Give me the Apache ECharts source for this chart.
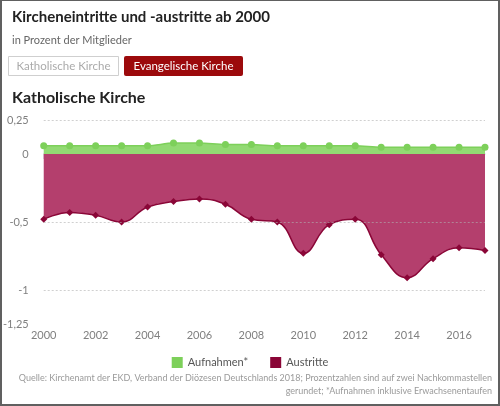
<!DOCTYPE html>
<html>
<head>
<meta charset="utf-8">
<script src="https://cdn.jsdelivr.net/npm/echarts@6/dist/echarts.min.js"></script>
<style>
html,body{margin:0;padding:0;background:#fff;}
#wrap{position:relative;width:500px;height:406px;}
#chart{position:absolute;left:0;top:0;width:500px;height:406px;}
#frame{position:absolute;left:0;top:0;width:500px;height:406px;box-sizing:border-box;border:2px solid #606060;border-top-width:1px;pointer-events:none;}
</style>
</head>
<body>
<div id="wrap"><div id="chart"></div><div id="frame"></div></div>
<script>
const years = ['2000','2001','2002','2003','2004','2005','2006','2007','2008','2009','2010','2011','2012','2013','2014','2015','2016','2017'];
const aufnahmen = [0.06,0.06,0.06,0.06,0.06,0.08,0.08,0.07,0.07,0.06,0.06,0.06,0.06,0.05,0.05,0.05,0.05,0.05];
const austritte = [-0.48,-0.43,-0.45,-0.50,-0.39,-0.35,-0.33,-0.37,-0.48,-0.50,-0.73,-0.52,-0.48,-0.74,-0.91,-0.77,-0.69,-0.71];
const yTickLabels = {'0.25':'0,25','0':'0','-0.5':'-0,5','-1':'-1','-1.25':'-1,25'};
const gridValues = [0.25,-0.5,-1];

const FONT = 'Lato, "Open Sans", sans-serif';
const chart = echarts.init(document.getElementById('chart'), null, {renderer:'canvas'});
chart.setOption({
  animation:false,
  backgroundColor:'#fff',
  title:[
    {text:'Kircheneintritte und -austritte ab 2000', left:7, top:5,
     textStyle:{fontFamily:FONT, fontSize:15, fontWeight:'bold', color:'#222'}},
    {text:'in Prozent der Mitglieder', left:7, top:30,
     textStyle:{fontFamily:FONT, fontSize:11, fontWeight:'normal', color:'#666'}},
    {text:'Katholische Kirche', left:7, top:85,
     textStyle:{fontFamily:FONT, fontSize:16, fontWeight:'bold', color:'#222'}}
  ],
  graphic:[
    {type:'rect', shape:{x:8.5,y:56.5,width:110,height:19}, style:{fill:'#fff', stroke:'#cfcfcf', lineWidth:1}},
    {type:'text', x:63.5, y:66, style:{text:'Katholische Kirche', fill:'#aaa', font:'11.5px '+FONT, align:'center', verticalAlign:'middle'}},
    {type:'rect', shape:{x:124,y:56,width:119,height:20,r:2}, style:{fill:'#9c0a0c'}},
    {type:'text', x:183.5, y:66, style:{text:'Evangelische Kirche', fill:'#fff', font:'11.5px '+FONT, align:'center', verticalAlign:'middle'}},
    {type:'text', x:492, y:378, style:{text:'Quelle: Kirchenamt der EKD, Verband der Diözesen Deutschlands 2018; Prozentzahlen sind auf zwei Nachkommastellen', fill:'#9a9a9a', font:'9px '+FONT, align:'right', verticalAlign:'middle'}},
    {type:'text', x:492, y:391, style:{text:'gerundet; *Aufnahmen inklusive Erwachsenentaufen', fill:'#9a9a9a', font:'9px '+FONT, align:'right', verticalAlign:'middle'}}
  ],
  legend:{
    top:352, left:'center', itemGap:22, icon:'rect', itemWidth:11, itemHeight:11,
    textStyle:{fontFamily:FONT, fontSize:11, color:'#555'},
    data:['Aufnahmen*','Austritte']
  },
  grid:{left:43, right:15, top:120, bottom:82},
  xAxis:{
    type:'category', data:years, boundaryGap:false,
    axisLine:{lineStyle:{color:'#dcdce4', width:1.5}},
    axisTick:{show:true, interval:1, length:5, lineStyle:{color:'#dcdce4'}},
    axisLabel:{interval:1, color:'#808080', fontFamily:FONT, fontSize:11, margin:6}
  },
  yAxis:{
    type:'value', min:-1.25, max:0.25, interval:0.25,
    axisLine:{show:false}, axisTick:{show:false}, splitLine:{show:false},
    axisLabel:{color:'#808080', fontFamily:FONT, fontSize:11, margin:15,
      formatter:function(v){const k=String(Math.round(v*100)/100);return yTickLabels[k]!==undefined?yTickLabels[k]:'';}}
  },
  series:[
    {name:'Aufnahmen*', type:'line', data:aufnahmen, smooth:0.3, symbol:'circle', symbolSize:7,
     itemStyle:{color:'#7dd05a'}, lineStyle:{color:'#7dd05a', width:1.5},
     areaStyle:{color:'#92da73', opacity:1}, z:3,
     markLine:{silent:true, symbol:'none', label:{show:false},
       lineStyle:{color:'#b0b0b0', type:[2,2], width:1, opacity:0.6},
       data:gridValues.map(v=>({yAxis:v}))}
    },
    {name:'Austritte', type:'line', data:austritte, smooth:0.45, symbol:'diamond', symbolSize:7,
     itemStyle:{color:'#8a0637'}, lineStyle:{color:'#8a0637', width:1.5},
     areaStyle:{color:'#b43f6d', opacity:1}, z:2}
  ]
});
</script>
</body>
</html>
